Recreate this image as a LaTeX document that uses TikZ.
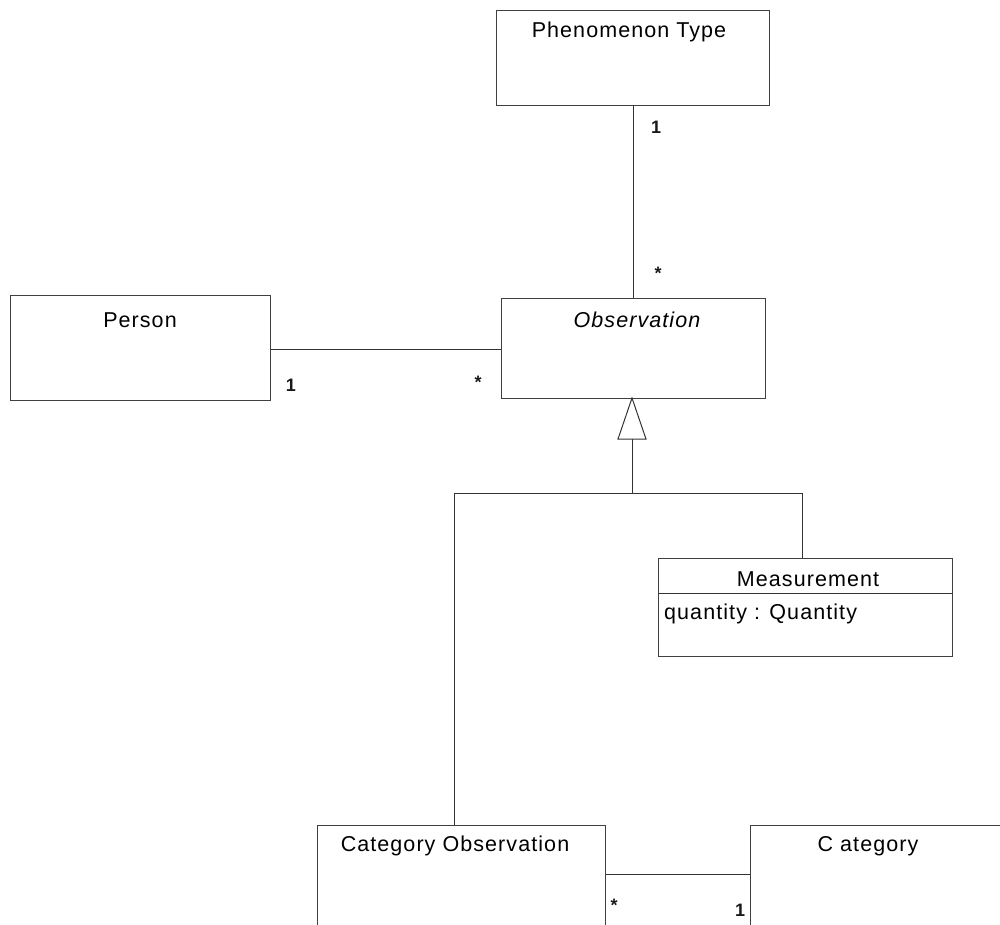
\documentclass[tikz,border=0pt]{standalone}
\usepackage{fontspec}
\setmainfont{Liberation Sans}
\newfontfamily\lsp[LetterSpace=5]{Liberation Sans}
\begin{document}
\begin{tikzpicture}[x=1pt,y=-1pt,
  box/.style={draw=black!75, line width=1pt, rectangle, inner sep=0pt, anchor=north west},
  conn/.style={draw=black!80, line width=1pt},
  title/.style={font=\lsp\fontsize{21.5}{24}\selectfont, inner sep=0pt},
  mult/.style={font=\fontsize{18}{20}\selectfont\bfseries, inner sep=0pt, text=black!90}]
\useasboundingbox (0,0) rectangle (1000,924);
\clip (0,0) rectangle (1000,924);
% boxes
\node[box, minimum width=273pt, minimum height=95pt] (pt) at (496,10) {};
\node[box, minimum width=260pt, minimum height=105pt] (person) at (10,295) {};
\node[box, minimum width=264pt, minimum height=100pt] (obs) at (501,298) {};
\node[box, minimum width=294pt, minimum height=98pt] (meas) at (658,558) {};
\node[box, minimum width=288pt, minimum height=130pt] (catobs) at (317,825) {};
\node[box, minimum width=270pt, minimum height=130pt] (cat) at (750,825) {};
% titles
\node[title] (ptt) at (629,32) {Phenomenon Type};
\node[title] (persont) at (140,320) {Person};
\node[title, font=\lsp\itshape\fontsize{21.5}{24}\selectfont] (obst) at (637,320) {Observation};
\node[title] (meast) at (808,579) {Measurement};
\node[title, anchor=west] (measattr) at (664,614) {quantity : Quantity};
\node[title] (catobst) at (455,846) {Category Observation};
\node[title] (catt) at (868,846) {C ategory};
\draw[conn] (meas.west |- 0,593) -- (meas.east |- 0,593);
% connectors
\coordinate (ptb) at (633,105);
\coordinate (obstop) at (633,298);
\draw[conn] (ptb) -- (obstop);
\node[mult] (m1) at (656,127) {1};
\node[mult] (m2) at (658,273) {*};
\draw[conn] (person.east |- 0,349) -- (obs.west |- 0,349);
\node[mult] (m3) at (291,385) {1};
\node[mult] (m4) at (478,382) {*};
% generalization
\coordinate (apex) at (632,398);
\coordinate (bl) at (618,439);
\coordinate (br) at (646,439);
\coordinate (bm) at (632,439);
\coordinate (junc) at (632,493);
\draw[conn, fill=white] (apex) -- (bl) -- (br) -- cycle;
\draw[conn] (bm) -- (junc);
\draw[conn] (catobs.north -| 454,0) |- (junc) -| (meas.north -| 802,0);
% category association
\draw[conn] (catobs.east |- 0,874) -- (cat.west |- 0,874);
\node[mult] (m5) at (614,905) {*};
\node[mult] (m6) at (740,910) {1};
\end{tikzpicture}
\end{document}
